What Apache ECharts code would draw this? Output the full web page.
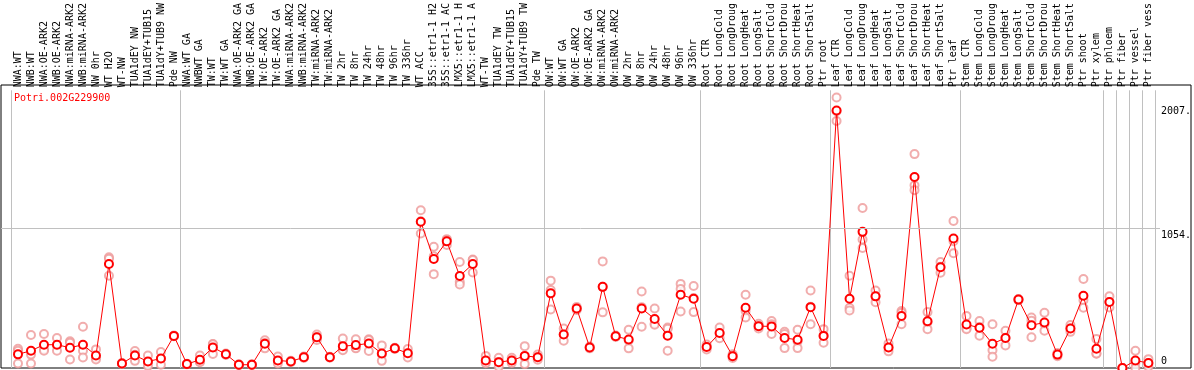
<!DOCTYPE html>
<html>
<head>
<meta charset="utf-8">
<script src="https://cdn.jsdelivr.net/npm/echarts@6/dist/echarts.min.js"></script>
<style>
html,body{margin:0;padding:0;background:#fff;}
#chart{width:1194px;height:370px;}
</style>
</head>
<body>
<div id="chart"></div>
<script>
const geneName = 'Potri.002G229900';

const categories = [
  'NWA:WT','NWB:WT','NWA:OE-ARK2','NWB:OE-ARK2','NWA:miRNA-ARK2','NWB:miRNA-ARK2','NW 0hr','WT H2O','WT-NW',
  'TUA1dEY NW','TUA1dEY+TUB15','TUA1dY+TUB9 NW','Pde NW',
  'NWA:WT GA','NWBWT GA','TW:WT','TW:WT GA','NWA:OE-ARK2 GA','NWB:OE-ARK2 GA','TW:OE-ARK2','TW:OE-ARK2 GA',
  'NWA:miRNA-ARK2','NWB:miRNA-ARK2','TW:miRNA-ARK2','TW:miRNA-ARK2','TW 2hr','TW 8hr','TW 24hr','TW 48hr',
  'TW 96hr','TW 336hr','WT ACC','35S::etr1-1 H2','35S::etr1-1 AC','LMX5::etr1-1 H','LMX5::etr1-1 A','WT-TW',
  'TUA1dEY TW','TUA1dEY+TUB15','TUA1dY+TUB9 TW','Pde TW',
  'OW:WT','OW:WT GA','OW:OE-ARK2','OW:OE-ARK2 GA','OW:miRNA-ARK2','OW:miRNA-ARK2','OW 2hr','OW 8hr','OW 24hr',
  'OW 48hr','OW 96hr','OW 336hr',
  'Root CTR','Root LongCold','Root LongDroug','Root LongHeat','Root LongSalt','Root ShortCold','Root ShortDrou',
  'Root ShortHeat','Root ShortSalt','Ptr root',
  'Leaf CTR','Leaf LongCold','Leaf LongDroug','Leaf LongHeat','Leaf LongSalt','Leaf ShortCold','Leaf ShortDrou',
  'Leaf ShortHeat','Leaf ShortSalt','Ptr leaf',
  'Stem CTR','Stem LongCold','Stem LongDroug','Stem LongHeat','Stem LongSalt','Stem ShortCold','Stem ShortDrou',
  'Stem ShortHeat','Stem ShortSalt','Ptr shoot',
  'Ptr xylem','Ptr phloem','Ptr fiber','Ptr vessel','Ptr fiber vess'
];

const meanValues = [
  105,133,179,179,156,179,96,800,35,96,50,73,247,
  30,63,158,106,25,25,186,58,50,83,236,83,168,176,189,111,151,113,1125,838,974,707,800,58,45,58,93,83,
  574,257,458,158,624,244,219,458,377,249,563,533,
  161,269,91,463,322,320,231,217,468,247,
  1980,533,1047,551,158,400,1469,360,775,996,
  335,309,186,231,526,329,350,103,304,556,
  148,508,0,58,38
];

const replicateValues = [
  [148,132,35],[254,103,35],[262,142,133],[231,173,133],[206,195,65],[317,133,81],[143,80,65],[851,840,709],
  [38,35,32],[131,102,55],[96,40,15],[123,70,25],[250,247,244],
  [32,30,28],[96,48,45],[184,182,108],[112,106,100],[28,25,22],[28,25,22],[214,193,151],[88,52,35],
  [55,50,45],[88,83,78],[257,236,215],[86,83,80],[226,142,136],[221,156,151],[221,215,131],[174,104,55],
  [156,151,146],[146,112,81],[1213,1128,1034],[933,859,722],[991,985,946],[815,664,642],[835,831,734],
  [93,45,36],[78,47,10],[78,58,38],[168,81,30],[103,83,63],
  [672,600,450],[304,258,209],[470,458,446],[165,158,151],[820,624,428],[250,244,238],[294,212,151],
  [589,468,317],[458,341,332],[312,302,133],[647,607,435],[631,538,430],
  [180,161,142],[312,266,229],[105,91,77],[563,438,388],[340,322,304],[362,336,262],[279,261,153],
  [294,204,153],[596,471,337],[299,248,194],
  [2080,1975,1900],[709,463,443],[1230,988,923],[596,551,506],[188,158,128],[438,425,337],
  [1645,1406,1368],[430,351,299],[815,778,732],[1130,975,883],
  [400,306,299],[362,316,249],[337,136,86],[287,232,174],[530,526,522],[388,363,236],[425,338,287],
  [115,103,91],[330,304,278],[684,521,463],
  [224,110,111],[551,508,465],[0,0,0],[133,41,0],[68,36,10]
];

const groupStarts = [0, 13, 41, 53, 63, 73, 84, 85, 86, 87];
const yTickValues = [1054, 2007];
const yZeroTick = [0];
const gridValue = 1054;
const yMax = 2136;

const mono = 'DejaVu Sans Mono';
const sepSet = new Set(groupStarts);
const sepFn = function (idx) { return sepSet.has(idx); };

const repData = [];
replicateValues.forEach(function (reps, i) {
  reps.forEach(function (v) { repData.push([i, v]); });
});

const chart = echarts.init(document.getElementById('chart'), null, {renderer: 'canvas'});
chart.setOption({
  animation: false,
  title: {
    text: geneName, left: 9, top: 88,
    textStyle: {color: '#ff0000', fontFamily: mono, fontSize: 10, fontWeight: 'normal'}
  },
  grid: [
    {left: 11.5, width: 1145, top: 85, height: 283},
    {left: 1, width: 1190, top: 85, height: 283, show: true, borderColor: '#000', borderWidth: 1, backgroundColor: 'transparent'},
    {left: 1, width: 1159, top: 85, height: 283}
  ],
  xAxis: [
    {
      type: 'category', gridIndex: 0, position: 'top', data: categories, boundaryGap: true,
      axisLine: {show: false},
      axisTick: {show: true, interval: sepFn, length: 85, inside: false, lineStyle: {color: '#c0c0c0', width: 1}},
      splitLine: {show: true, interval: sepFn, lineStyle: {color: '#c0c0c0', width: 1}},
      axisLabel: {rotate: 90, interval: 0, margin: 3, fontFamily: mono, fontSize: 10, color: '#000'}
    },
    {type: 'value', gridIndex: 1, min: 0, max: 1, show: false},
    {type: 'value', gridIndex: 2, min: 0, max: 1, show: false}
  ],
  yAxis: [
    {
      type: 'value', gridIndex: 0, min: 0, max: yMax, position: 'right',
      axisLine: {show: false}, axisTick: {show: false}, splitLine: {show: false},
      axisLabel: {customValues: yTickValues, formatter: function (v) { return v + '.'; }, verticalAlign: 'top',
        lineHeight: 9, margin: 6, fontFamily: mono, fontSize: 10, color: '#000'}
    },
    {
      type: 'value', gridIndex: 0, min: 0, max: yMax, position: 'right',
      axisLine: {show: false}, axisTick: {show: false}, splitLine: {show: false},
      axisLabel: {customValues: yZeroTick, formatter: function (v) { return String(v); }, verticalAlign: 'bottom',
        lineHeight: 9, padding: [0, 0, 2, 0], margin: 6, fontFamily: mono, fontSize: 10, color: '#000'}
    },
    {type: 'value', gridIndex: 1, min: 0, max: yMax, show: false},
    {type: 'value', gridIndex: 2, min: 0, max: yMax, show: false}
  ],
  series: [
    {
      type: 'line', xAxisIndex: 2, yAxisIndex: 3, data: [], silent: true, z: 1,
      markLine: {
        silent: true, symbol: 'none', label: {show: false}, animation: false,
        lineStyle: {color: '#c0c0c0', type: 'solid', width: 1},
        data: [{yAxis: gridValue}]
      }
    },
    {
      type: 'scatter', xAxisIndex: 0, yAxisIndex: 0, data: repData, z: 3,
      symbol: 'emptyCircle', symbolSize: 8,
      itemStyle: {color: '#ee9999', borderColor: '#ee9999', borderWidth: 1.2}
    },
    {
      type: 'line', xAxisIndex: 0, yAxisIndex: 0, data: meanValues, z: 4,
      symbol: 'emptyCircle', symbolSize: 8, showAllSymbol: true,
      lineStyle: {color: '#ff0000', width: 1},
      itemStyle: {color: '#ff0000', borderColor: '#ff0000', borderWidth: 1.6}
    }
  ]
});
</script>
</body>
</html>
